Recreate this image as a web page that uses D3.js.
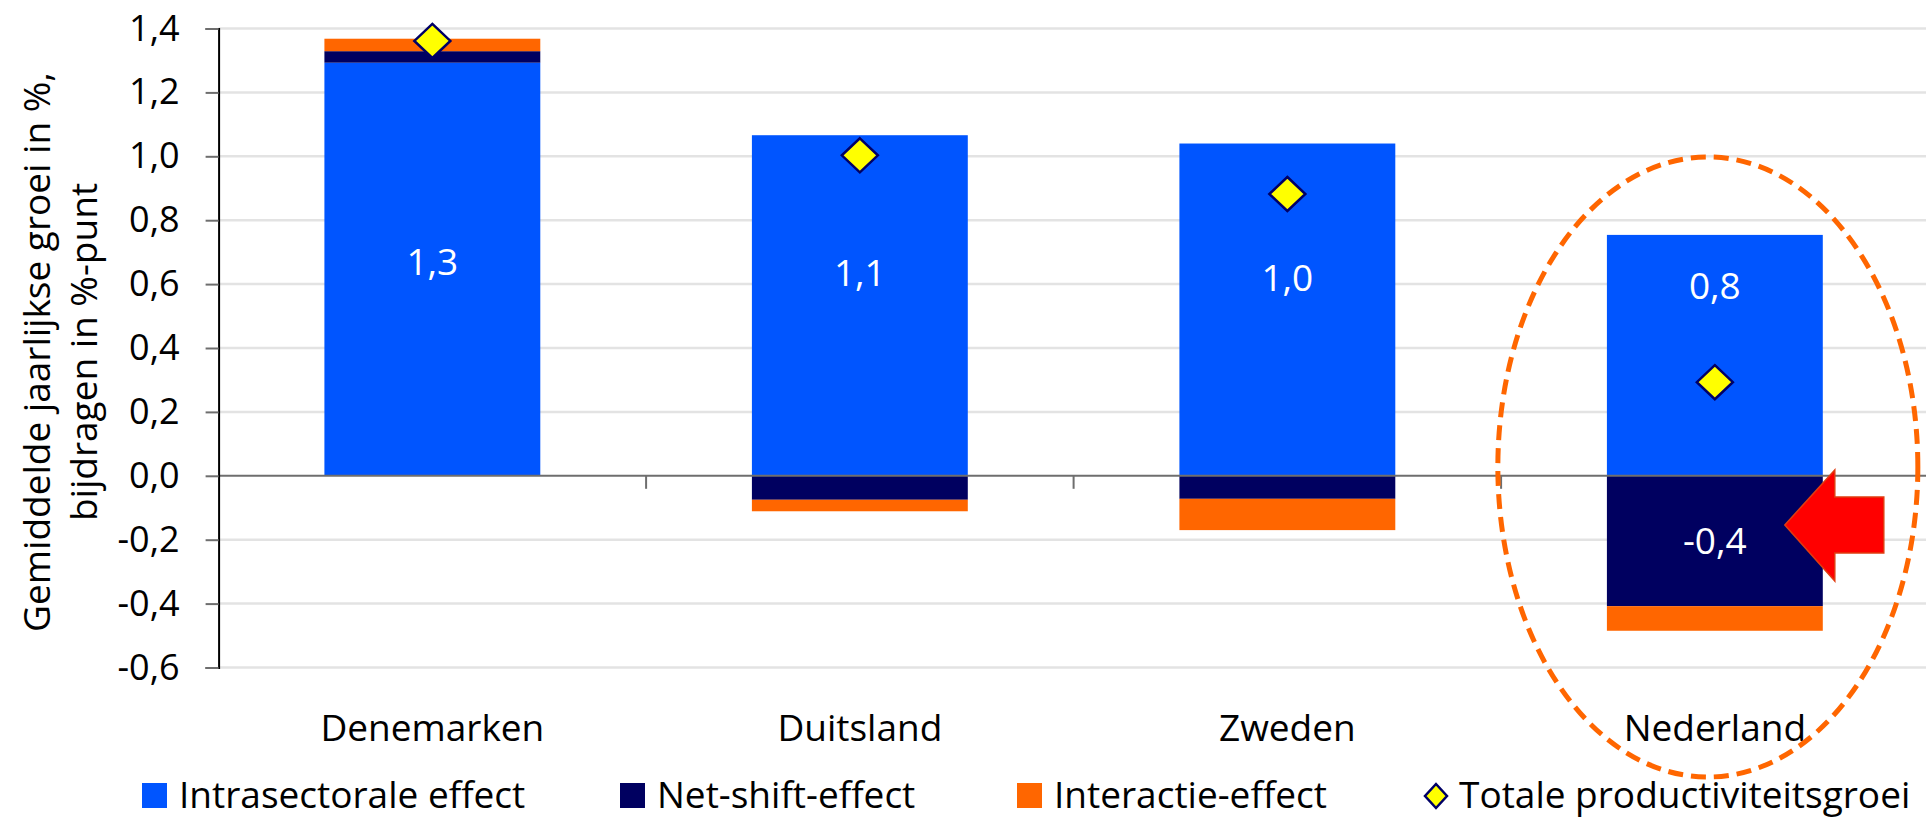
<!DOCTYPE html>
<html>
<head>
<meta charset="utf-8">
<script src="https://cdn.jsdelivr.net/npm/d3@7"></script>
<style>
  html, body { margin: 0; padding: 0; background: #ffffff; overflow: hidden; }
  svg { display: block; }
  text { font-family: "Open Sans", "Noto Sans", sans-serif; fill: #000; }
</style>
</head>
<body>
<svg id="chart" width="1926" height="819"></svg>
<script>
// ---------- data ----------
const categories = ["Denemarken", "Duitsland", "Zweden", "Nederland"];
const intrasectoraal = [1.293, 1.066, 1.040, 0.754];
const netShift = [0.036, -0.075, -0.072, -0.408];
const interactie = [0.039, -0.036, -0.098, -0.077];
const totaal = [1.361, 1.003, 0.882, 0.293];
const seriesNames = ["Intrasectorale effect", "Net-shift-effect", "Interactie-effect", "Totale productiviteitsgroei"];
const yTicks = [-0.6, -0.4, -0.2, 0.0, 0.2, 0.4, 0.6, 0.8, 1.0, 1.2, 1.4];
const yTitleLines = ["Gemiddelde jaarlijkse groei in %,", "bijdragen in %-punt"];
const highlighted = "Nederland";

// ---------- layout / style ----------
const W = 1926, H = 819;
const plot = { left: 218.6, right: 1928.6, top: 28.5, bottom: 667.5 };
const colors = { intra: "#0055FF", net: "#000060", inter: "#FF6600", diamond: "#FFFF00", diamondStroke: "#000066" };
// label anchors for the intrasectoral value labels (in axis units)
const intraLabelAnchor = [0.67, 0.635, 0.62, 0.595];

const loc = d3.formatLocale({ decimal: ",", thousands: ".", grouping: [3], currency: ["€", ""], minus: "-" });
const fmt = loc.format(".1f");

const svg = d3.select("#chart");

const x = d3.scaleBand().domain(categories).range([plot.left, plot.right])
  .paddingInner(0.495).paddingOuter(0.2475);
const y = d3.scaleLinear().domain([-0.6, 1.4]).range([plot.bottom, plot.top]);

// gridlines
svg.append("g").selectAll("line").data(yTicks.filter(v => Math.abs(v) > 1e-9)).join("line")
  .attr("x1", plot.left).attr("x2", W)
  .attr("y1", d => y(d)).attr("y2", d => y(d))
  .attr("stroke", "#e3e3e3").attr("stroke-width", 2.5);

// stacked bars
const table = categories.map((c, i) => ({ cat: c, intra: intrasectoraal[i], net: netShift[i], inter: interactie[i] }));
const keys = ["intra", "net", "inter"];
const stacked = d3.stack().keys(keys).offset(d3.stackOffsetDiverging)(table);

svg.append("g").selectAll("g").data(stacked).join("g")
  .attr("fill", d => colors[d.key])
  .selectAll("rect").data(d => d).join("rect")
  .attr("x", d => x(d.data.cat))
  .attr("width", x.bandwidth())
  .attr("y", d => y(Math.max(d[0], d[1])))
  .attr("height", d => Math.abs(y(d[0]) - y(d[1])));

// zero line
svg.append("line")
  .attr("x1", plot.left).attr("x2", W)
  .attr("y1", y(0)).attr("y2", y(0))
  .attr("stroke", "#6e6e6e").attr("stroke-width", 2);

// category ticks on zero line
const step = x.step();
svg.append("g").selectAll("line").data(categories.slice(1)).join("line")
  .attr("x1", d => x(d) - (step - x.bandwidth()) / 2)
  .attr("x2", d => x(d) - (step - x.bandwidth()) / 2)
  .attr("y1", y(0)).attr("y2", y(0) + 13)
  .attr("stroke", "#6e6e6e").attr("stroke-width", 2);

// y axis
const yAxis = d3.axisLeft(y).tickValues(yTicks).tickFormat(fmt).tickSize(13).tickPadding(26);
const gy = svg.append("g").attr("transform", `translate(${plot.left},0)`).call(yAxis);
gy.select(".domain").attr("stroke", "#000").attr("stroke-width", 2);
gy.selectAll(".tick line").attr("stroke", "#6e6e6e").attr("stroke-width", 2);
gy.selectAll(".tick text").style("font-family", '"Open Sans", sans-serif').style("font-size", "36px").attr("fill", "#000");

// y title
const title = svg.append("text")
  .attr("transform", `translate(0,352) rotate(-90)`)
  .attr("text-anchor", "middle")
  .style("font-size", "37px");
title.selectAll("tspan").data(yTitleLines).join("tspan")
  .attr("x", 0)
  .attr("y", (d, i) => 50 + i * 47)
  .text(d => d);

// category labels
svg.append("g").selectAll("text").data(categories).join("text")
  .attr("x", d => x(d) + x.bandwidth() / 2)
  .attr("y", 741)
  .attr("text-anchor", "middle")
  .style("font-size", "37px")
  .text(d => d);

// value labels
svg.append("g").selectAll("text").data(categories).join("text")
  .attr("x", d => x(d) + x.bandwidth() / 2)
  .attr("y", (d, i) => y(intraLabelAnchor[i]))
  .attr("dy", "0.36em")
  .attr("text-anchor", "middle")
  .style("font-size", "37px").style("fill", "#fff")
  .text((d, i) => fmt(intrasectoraal[i]));

svg.append("g").selectAll("text").data(categories.filter((c, i) => Math.abs(netShift[i]) >= 0.3)).join("text")
  .attr("x", d => x(d) + x.bandwidth() / 2)
  .attr("y", d => { const i = categories.indexOf(d); return y(netShift[i] / 2); })
  .attr("dy", "0.36em")
  .attr("text-anchor", "middle")
  .style("font-size", "37px").style("fill", "#fff")
  .text(d => fmt(netShift[categories.indexOf(d)]));

// diamonds (total)
const diamond = (hw, hh) => `M0,${-hh}L${hw},0L0,${hh}L${-hw},0Z`;
svg.append("g").selectAll("path").data(categories).join("path")
  .attr("transform", (d, i) => `translate(${x(d) + x.bandwidth() / 2},${y(totaal[i])})`)
  .attr("d", diamond(18, 17))
  .attr("fill", colors.diamond).attr("stroke", colors.diamondStroke).attr("stroke-width", 2.5);

// highlight: dashed ellipse around Nederland
const hx = x(highlighted) + x.bandwidth() / 2;
svg.append("ellipse")
  .attr("cx", hx - 7).attr("cy", 467).attr("rx", 210).attr("ry", 310)
  .attr("fill", "none").attr("stroke", "#FF6600").attr("stroke-width", 5)
  .attr("stroke-dasharray", "15,8");

// red arrow pointing at the net-shift bar
const arrowY = y(netShift[categories.indexOf(highlighted)] / 2) - 16;
const ax0 = x(highlighted) + x.bandwidth() - 38;
const arrow = `M${ax0},${arrowY} L${ax0 + 50},${arrowY - 55} L${ax0 + 50},${arrowY - 28} L${ax0 + 99},${arrowY - 28} L${ax0 + 99},${arrowY + 28} L${ax0 + 50},${arrowY + 28} L${ax0 + 50},${arrowY + 56} Z`;
svg.append("path").attr("d", arrow)
  .attr("fill", "#FF0000").attr("stroke", "#E03C10").attr("stroke-width", 1.5);

// legend
const legendItems = [
  { name: seriesNames[0], type: "rect", color: colors.intra, x: 142 },
  { name: seriesNames[1], type: "rect", color: colors.net, x: 620 },
  { name: seriesNames[2], type: "rect", color: colors.inter, x: 1017 },
  { name: seriesNames[3], type: "diamond", color: colors.diamond, x: 1425 }
];
const lg = svg.append("g").selectAll("g").data(legendItems).join("g")
  .attr("transform", d => `translate(${d.x},783)`);
lg.filter(d => d.type === "rect").append("rect")
  .attr("width", 25).attr("height", 25).attr("fill", d => d.color);
lg.filter(d => d.type === "diamond").append("path")
  .attr("transform", "translate(11,13)")
  .attr("d", diamond(11, 12))
  .attr("fill", colors.diamond).attr("stroke", colors.diamondStroke).attr("stroke-width", 2.5);
lg.append("text")
  .attr("x", d => d.type === "rect" ? 37 : 34)
  .attr("y", 25)
  .style("font-size", "37px")
  .text(d => d.name);
</script>
</body>
</html>
